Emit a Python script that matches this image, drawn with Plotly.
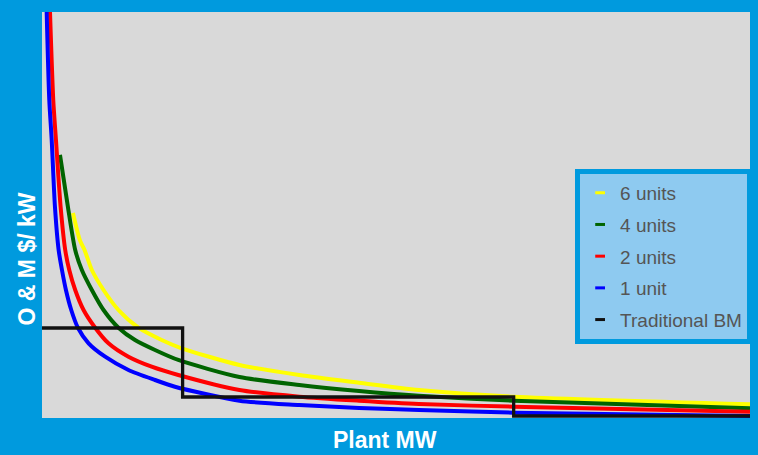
import plotly.graph_objects as go

# Plant MW (x) and O&M $/kW (y) (arbitrary 0-100 scale)
x_1unit = [0.66, 1.03, 1.37, 1.83, 2.35, 2.82, 3.38, 4.13, 5.07, 6.58, 8.92, 12.21, 15.96, 18.77,
           27.89, 36.34, 44.79, 53.24, 66.62, 100]
y_1unit = [100, 78.3, 68.5, 52.0, 41.38, 36.45, 31.53, 26.60, 22.24, 18.40, 15.10, 11.82, 9.36, 7.71,
           4.26, 3.20, 2.46, 1.97, 1.31, 0.49]

x_2units = [1.13, 1.59, 1.97, 2.63, 3.28, 3.85, 4.69, 5.87, 7.51, 9.39, 12.21, 15.49, 19.25,
            27.89, 36.34, 44.79, 53.24, 66.62, 100]
y_2units = [100, 78.3, 68.5, 52.0, 41.38, 36.45, 31.53, 26.60, 22.24, 18.40, 15.10, 12.64, 10.59,
            6.90, 5.25, 4.26, 3.45, 2.78, 1.55]

x_4units = [2.54, 3.66, 4.69, 5.63, 7.04, 8.69, 10.80, 13.14, 15.96, 19.25,
            27.89, 36.34, 44.79, 53.24, 66.62, 100]
y_4units = [64.8, 52.0, 41.38, 36.45, 31.53, 26.60, 22.24, 19.21, 16.75, 14.29,
            10.1, 8.13, 6.65, 5.49, 4.26, 2.39]

x_6units = [4.37, 5.35, 6.01, 7.04, 8.69, 10.80, 13.62, 16.90, 19.72,
            27.89, 36.34, 44.79, 53.24, 66.62, 100]
y_6units = [50.5, 43.8, 41.38, 36.45, 31.53, 26.60, 22.24, 19.21, 17.17,
            13.05, 10.59, 8.69, 6.90, 5.25, 3.37]

x_trad = [0, 19.86, 66.62, 100]
y_trad = [22.17, 5.17, 0.49, 0.49]

names = ["6 units", "4 units", "2 units", "1 unit", "Traditional BM"]
colors = ["#ffff00", "#006400", "#ff0000", "#0000ff", "#111111"]
xs_all = [x_6units, x_4units, x_2units, x_1unit]
ys_all = [y_6units, y_4units, y_2units, y_1unit]

fig = go.Figure()
for name, xs, ys, col in zip(names[:4], xs_all, ys_all, colors[:4]):
    fig.add_trace(go.Scatter(x=xs, y=ys, mode="lines", name=name,
                             line=dict(color=col, width=4, shape="spline", smoothing=0.7),
                             showlegend=False, hoverinfo="skip"))
fig.add_trace(go.Scatter(x=x_trad, y=y_trad, mode="lines", name=names[4],
                         line=dict(color=colors[4], width=3.3, shape="hv"),
                         showlegend=False, hoverinfo="skip"))

# legend entries with short dash symbols
for i, (name, col) in enumerate(zip(names, colors)):
    fig.add_trace(go.Scatter(x=[None], y=[None], mode="markers", name=name,
                             legendgroup="g%d" % i,
                             marker=dict(symbol="line-ew-open", size=7, color=col,
                                         line=dict(color=col, width=3))))

fig.update_layout(
    width=758, height=455,
    margin=dict(l=42, r=6, t=12, b=37),
    paper_bgcolor="#009ade",
    plot_bgcolor="#d9d9d9",
    showlegend=True,
    legend=dict(x=1.003, xanchor="right", y=0.398, yanchor="middle",
                bgcolor="#8ecaf0", bordercolor="#009ade", borderwidth=5,
                font=dict(family="Liberation Sans, Arial", size=19, color="#555555"),
                itemwidth=30, traceorder="grouped", tracegroupgap=4),
    xaxis=dict(range=[0, 100], showticklabels=False, showgrid=False, zeroline=False, ticks=""),
    yaxis=dict(range=[0, 100], showticklabels=False, showgrid=False, zeroline=False, ticks=""),
    annotations=[
        dict(text="<b>O & M $/ kW</b>", xref="paper", yref="paper", x=-0.0218, y=0.392,
             textangle=-90, showarrow=False, xanchor="center", yanchor="middle",
             font=dict(family="Liberation Sans, Arial", size=23, color="white")),
        dict(text="<b>Plant MW</b>", xref="paper", yref="paper", x=0.485, y=-0.054,
             showarrow=False, xanchor="center", yanchor="middle",
             font=dict(family="Liberation Sans, Arial", size=23, color="white")),
    ],
)

fig.write_html("out.html", config={"displayModeBar": False},
               post_script="document.body.style.margin='0';")
